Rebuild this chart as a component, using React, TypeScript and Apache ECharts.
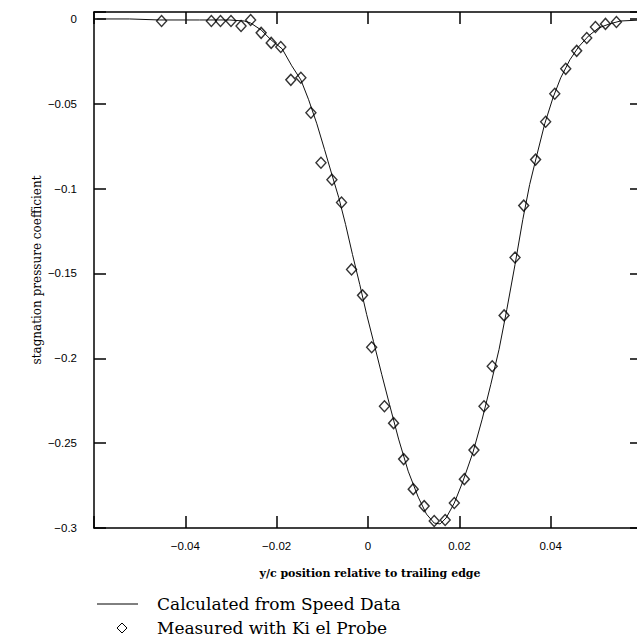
import React, { useEffect, useRef } from "react";
import * as echarts from "echarts";

// Calculated curve (from speed data)
const curveX = [-0.0594, -0.0522, -0.0456, -0.0369, -0.0304, -0.0271, -0.0257, -0.0234, -0.0212, -0.0188, -0.0167, -0.0147, -0.013, -0.0112, -0.0095, -0.0079, -0.0064, -0.0049, -0.0034, -0.0018, -0.0003, 0.0012, 0.003, 0.0047, 0.0067, 0.0088, 0.011, 0.0128, 0.0145, 0.0158, 0.0171, 0.0189, 0.0208, 0.023, 0.025, 0.0269, 0.0287, 0.0304, 0.0322, 0.0339, 0.0354, 0.037, 0.0387, 0.0405, 0.0422, 0.0442, 0.0461, 0.0483, 0.0505, 0.0529, 0.0553, 0.06];
const curveY = [0, 0, -0.0006, -0.0006, -0.0006, -0.0012, -0.0024, -0.0065, -0.0124, -0.0176, -0.0276, -0.0359, -0.0476, -0.0618, -0.0771, -0.0918, -0.1053, -0.1212, -0.1388, -0.1565, -0.1741, -0.19, -0.2094, -0.2271, -0.2476, -0.2665, -0.2818, -0.2918, -0.2971, -0.2976, -0.2941, -0.2853, -0.2724, -0.2553, -0.2359, -0.2153, -0.1947, -0.1712, -0.1447, -0.1182, -0.0976, -0.08, -0.0618, -0.0465, -0.0347, -0.0241, -0.0165, -0.01, -0.0053, -0.0029, -0.0012, -0.0006];

// Measured with Kiel probe
const measuredX = [-0.0452, -0.0343, -0.0323, -0.03, -0.0278, -0.0257, -0.0234, -0.0212, -0.0191, -0.0169, -0.0147, -0.0125, -0.0103, -0.0079, -0.0058, -0.0036, -0.0012, 0.0008, 0.0036, 0.0056, 0.0078, 0.0099, 0.0123, 0.0145, 0.0169, 0.0189, 0.0211, 0.0232, 0.0254, 0.0272, 0.0298, 0.0322, 0.0341, 0.0367, 0.0389, 0.0409, 0.0433, 0.0457, 0.0479, 0.0498, 0.052, 0.0544];
const measuredY = [-0.0012, -0.0012, -0.0012, -0.0012, -0.0041, -0.0006, -0.0082, -0.0141, -0.0165, -0.0359, -0.0347, -0.0553, -0.0847, -0.0947, -0.1082, -0.1476, -0.1629, -0.1935, -0.2282, -0.2382, -0.2594, -0.2771, -0.2871, -0.2959, -0.2953, -0.2853, -0.2712, -0.2541, -0.2282, -0.2047, -0.1747, -0.1406, -0.11, -0.0829, -0.0606, -0.0441, -0.0294, -0.0188, -0.0112, -0.0047, -0.0029, -0.0018];

const xStep = 0.02;
const yStep = 0.05;
const xTitle = "y/c position relative to trailing edge";
const yTitle = "stagnation pressure coefficient";
const lineName = "Calculated from Speed Data";
const pointName = "Measured with Ki el Probe";

function fmt(v: number, step: number): string {
  const k = Math.round(v / step);
  if (Math.abs(v - k * step) > 1e-9) return "";
  const r = parseFloat(Math.abs(k * step).toFixed(4));
  return (k < 0 ? "\u2212" : "") + String(r);
}

export default function App() {
  const ref = useRef<HTMLDivElement>(null);
  useEffect(() => {
    if (!ref.current) return;
    const chart = echarts.init(ref.current, null, { renderer: "svg" });
    const axisLine = { onZero: false, lineStyle: { color: "#000", width: 1.5 } };
    const axisTick = { inside: true, length: 12, lineStyle: { color: "#000", width: 1.5 } };
    const labelFont = { fontFamily: "Liberation Sans", fontSize: 11.5, color: "#000" };
    chart.setOption({
      animation: false,
      backgroundColor: "#fff",
      grid: { left: 94, top: 12, width: 551, height: 516 },
      xAxis: [
        {
          type: "value", position: "bottom", min: -0.06, max: 0.06, interval: xStep,
          axisLine, axisTick, splitLine: { show: false },
          axisLabel: { ...labelFont, margin: 12, formatter: (v: number) => (Math.abs(v) > 0.055 ? "" : fmt(v, xStep)) },
        },
        {
          type: "value", position: "top", min: -0.06, max: 0.06, interval: xStep,
          axisLine, axisTick, splitLine: { show: false }, axisLabel: { show: false },
        },
      ],
      yAxis: [
        {
          type: "value", position: "left", min: -0.3, max: 0.0041, interval: yStep,
          axisLine, axisTick, splitLine: { show: false },
          axisLabel: { ...labelFont, margin: 17, formatter: (v: number) => fmt(v, yStep) },
        },
        {
          type: "value", position: "right", min: -0.3, max: 0.0041, interval: yStep,
          axisLine, axisTick, splitLine: { show: false }, axisLabel: { show: false },
        },
      ],
      series: [
        {
          type: "line", name: lineName, xAxisIndex: 0, yAxisIndex: 0,
          data: curveX.map((x, i) => [x, curveY[i]]),
          showSymbol: false, symbol: "none",
          lineStyle: { color: "#111", width: 1 }, z: 2,
        },
        {
          type: "scatter", name: pointName, xAxisIndex: 0, yAxisIndex: 0,
          data: measuredX.map((x, i) => [x, measuredY[i]]),
          symbol: "diamond", symbolSize: [10, 11],
          itemStyle: { color: "rgba(255,255,255,0)", borderColor: "#000", borderWidth: 1.4 }, z: 3,
        },
      ],
      graphic: [
        {
          type: "text", x: 370, y: 573,
          style: { text: xTitle, align: "center", verticalAlign: "middle", font: 'bold 11px "DejaVu Serif"', fill: "#000" },
        },
        {
          type: "text", x: 37, y: 270, rotation: Math.PI / 2,
          style: { text: yTitle, align: "center", verticalAlign: "middle", font: '12px "DejaVu Serif"', fill: "#000" },
        },
        {
          type: "line", shape: { x1: 97, y1: 604, x2: 138, y2: 604 },
          style: { stroke: "#000", lineWidth: 1 },
        },
        {
          type: "text", x: 157, y: 604,
          style: { text: lineName, align: "left", verticalAlign: "middle", font: '17px "DejaVu Serif"', fill: "#000" },
        },
        {
          type: "polygon", shape: { points: [[122, 623], [127, 628], [122, 633], [117, 628]] },
          style: { fill: "none", stroke: "#000", lineWidth: 1 },
        },
        {
          type: "text", x: 157, y: 628,
          style: { text: pointName, align: "left", verticalAlign: "middle", font: '17px "DejaVu Serif"', fill: "#000" },
        },
      ],
    });
    return () => chart.dispose();
  }, []);
  return (
    <div
      ref={ref}
      style={{ position: "fixed", left: 0, top: 0, width: 645, height: 641, background: "#fff" }}
    />
  );
}
